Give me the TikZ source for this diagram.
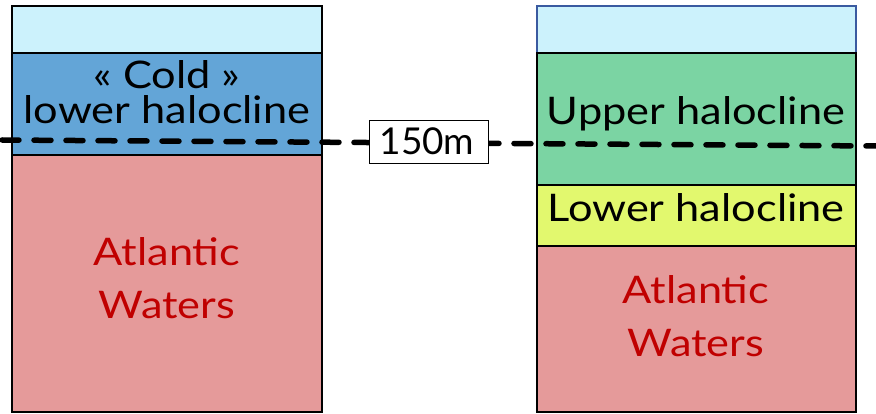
\documentclass[tikz,border=0pt]{standalone}
\usepackage{fontspec}
\setmainfont{Lato}[FakeStretch=1.14]
\newfontfamily\plainlato{Lato}
\definecolor{icecol}{HTML}{CCF2FC}
\definecolor{coldcol}{HTML}{63A5D7}
\definecolor{atlcol}{HTML}{E59A9A}
\definecolor{uppercol}{HTML}{7BD4A3}
\definecolor{lowercol}{HTML}{E2F86E}
\definecolor{redtext}{HTML}{C00000}
\definecolor{iceborder}{HTML}{3A5AA0}
\tikzset{
  layer/.style={draw=black, line width=2pt, inner sep=0pt, outer sep=0pt, anchor=north west},
  lbl/.style={font=\fontsize{38}{53}\selectfont, inner sep=0pt, anchor=base},
  depthline/.style={line width=5.5pt, line cap=round, dash pattern=on 17pt off 15pt},
  depthbox/.style={draw=black, fill=white, line width=1.5pt, minimum width=119pt, minimum height=43pt, inner sep=0pt}
}
\begin{document}
\begin{tikzpicture}[x=1pt,y=-1pt]
\useasboundingbox (0,0) rectangle (876,414);
% left column
\node[layer, fill=icecol, minimum width=310pt, minimum height=47pt] (lice) at (12,6) {};
\node[layer, fill=coldcol, minimum width=310pt, minimum height=102pt] (lcold) at (12,53) {};
\node[layer, fill=atlcol, minimum width=310pt, minimum height=257pt] (latl) at (12,155) {};
% right column
\node[layer, draw=iceborder, fill=icecol, minimum width=319pt, minimum height=47pt] (rice) at (537,6) {};
\node[layer, fill=uppercol, minimum width=319pt, minimum height=132pt] (rup) at (537,53) {};
\node[layer, fill=lowercol, minimum width=319pt, minimum height=61pt] (rlow) at (537,185) {};
\node[layer, fill=atlcol, minimum width=319pt, minimum height=166pt] (ratl) at (537,246) {};
% labels
\node[lbl] (tcold) at (167,89) {« Cold »};
\node[lbl] (tlowl) at (167,124) {lower halocline};
\node[lbl] (tatl1) at (167,266) {\textcolor{redtext}{Atlantic}};
\node[lbl] (tatl2) at (167,319) {\textcolor{redtext}{Waters}};
\node[lbl] (tup) at (696,125) {Upper halocline};
\node[lbl] (tlow) at (696,222) {Lower halocline};
\node[lbl] (tatr1) at (696,303) {\textcolor{redtext}{Atlantic}};
\node[lbl] (tatr2) at (696,356) {\textcolor{redtext}{Waters}};
% depth line
\coordinate (dl) at (2,140);
\coordinate (dr) at (876,146);
\draw[depthline] (dl) -- (dr);
\node[depthbox] (depth) at (429,142) {};
\node[lbl, font=\plainlato\fontsize{37}{50}\selectfont] (tdepth) at (427,155) {150m};
\end{tikzpicture}
\end{document}
